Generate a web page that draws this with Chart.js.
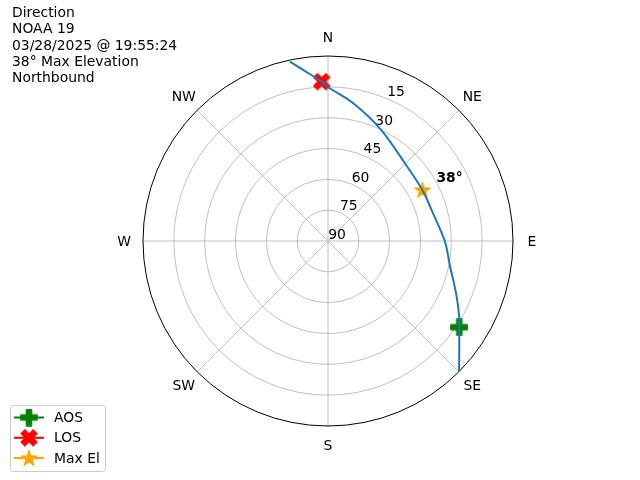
<!DOCTYPE html>
<html lang="en">
<head>
    <meta charset="UTF-8">
    <title>Direction</title>
    <script src="https://cdn.jsdelivr.net/npm/chart.js"></script>
    <style>
        body { margin: 0; background: #fff; }
        #grafico { display: block; }
    </style>
</head>
<body>
<canvas id="grafico" width="640" height="480"></canvas>
<script>
    // pass track (azimuth deg, elevation deg), AOS -> LOS
    const azimute = [134.9, 129.7, 123.3, 120.0, 113.4, 107.3, 101.9, 90.3, 73.4, 61.6, 44.7, 25.4, 10.4, 0.1, 357.7, 352.3, 348.0];
    const elevacao = [0.0, 7.0, 13.6, 16.3, 21.8, 26.2, 29.3, 33.1, 37.4, 37.8, 36.8, 30.0, 21.9, 15.2, 12.4, 6.6, 0.8];

    const aos = { az: 123.3, el: 13.6 };
    const los = { az: 357.7, el: 12.4 };
    const maxEl = { az: 61.6, el: 37.8 };

    const aneis = [15, 30, 45, 60, 75];           // radius = 90 - elevation
    const rotulosAneis = ['90', '75', '60', '45', '30', '15'];
    const direcoes = ['N', 'NE', 'E', 'SE', 'S', 'SW', 'W', 'NW'];
    const titulo = ['Direction', 'NOAA 19', '03/28/2025 @ 19:55:24', '38° Max Elevation', 'Northbound'];

    function polar(az, el) {
        const r = 90 - el;
        const a = az * Math.PI / 180;
        return { x: r * Math.sin(a), y: r * Math.cos(a) };
    }

    const fonte = '13.9px "DejaVu Sans"';

    // filled marker shapes like matplotlib's P, X and *
    function marcador(tipo, cor) {
        const s = 18;
        const c = document.createElement('canvas');
        c.width = s; c.height = s;
        const g = c.getContext('2d');
        g.translate(s / 2, s / 2);
        g.fillStyle = cor;
        g.strokeStyle = cor;
        g.lineWidth = 1;
        g.lineJoin = 'round';
        const h = 8.3, t = 2.8;
        g.beginPath();
        if (tipo === 'plus' || tipo === 'x') {
            if (tipo === 'x') g.rotate(Math.PI / 4);
            const k = tipo === 'x' ? h * 1.05 : h;
            g.moveTo(-t, -k); g.lineTo(t, -k); g.lineTo(t, -t); g.lineTo(k, -t);
            g.lineTo(k, t); g.lineTo(t, t); g.lineTo(t, k); g.lineTo(-t, k);
            g.lineTo(-t, t); g.lineTo(-k, t); g.lineTo(-k, -t); g.lineTo(-t, -t);
        } else {
            for (let i = 0; i < 10; i++) {
                const r = i % 2 === 0 ? 8.5 : 3.4;
                const a = -Math.PI / 2 + i * Math.PI / 5;
                const px = r * Math.cos(a), py = r * Math.sin(a) + 0.6;
                if (i === 0) g.moveTo(px, py); else g.lineTo(px, py);
            }
        }
        g.closePath();
        g.fill();
        g.stroke();
        return c;
    }

    const mAos = marcador('plus', 'green');
    const mLos = marcador('x', 'red');
    const mMax = marcador('star', 'orange');

    const legenda = [
        { texto: 'AOS', cor: 'green', img: mAos },
        { texto: 'LOS', cor: 'red', img: mLos },
        { texto: 'Max El', cor: 'orange', img: mMax }
    ];

    const polarPlugin = {
        id: 'polarPlugin',
        beforeDatasetsDraw(chart) {
            const ctx = chart.ctx;
            const sx = chart.scales.x, sy = chart.scales.y;
            const cx = sx.getPixelForValue(0), cy = sy.getPixelForValue(0);
            const k = sx.getPixelForValue(1) - cx;
            ctx.save();
            ctx.strokeStyle = '#b0b0b0';
            ctx.lineWidth = 0.8;
            aneis.forEach(r => {
                ctx.beginPath();
                ctx.arc(cx, cy, r * k, 0, Math.PI * 2);
                ctx.stroke();
            });
            for (let i = 0; i < 8; i++) {
                const p = polar(i * 45, 0);
                ctx.beginPath();
                ctx.moveTo(cx, cy);
                ctx.lineTo(sx.getPixelForValue(p.x), sy.getPixelForValue(p.y));
                ctx.stroke();
            }
            ctx.strokeStyle = '#000';
            ctx.lineWidth = 1;
            ctx.beginPath();
            ctx.arc(cx, cy, 90 * k, 0, Math.PI * 2);
            ctx.stroke();

            ctx.fillStyle = '#000';
            ctx.font = fonte;
            ctx.textAlign = 'center';
            ctx.textBaseline = 'middle';
            direcoes.forEach((d, i) => {
                const a = i * 45 * Math.PI / 180;
                ctx.fillText(d, cx + 204 * Math.sin(a), cy + 1 - 204 * Math.cos(a));
            });
            rotulosAneis.forEach((t, i) => {
                const r = i * 15 * k;
                const a = 22.5 * Math.PI / 180;
                ctx.fillText(t, cx + r * Math.sin(a) + 9, cy - r * Math.cos(a) - 6);
            });
            ctx.restore();
        },
        afterDraw(chart) {
            const ctx = chart.ctx;
            const sx = chart.scales.x, sy = chart.scales.y;
            ctx.save();
            ctx.fillStyle = '#000';
            ctx.textAlign = 'left';
            ctx.textBaseline = 'alphabetic';
            ctx.font = fonte;
            titulo.forEach((t, i) => ctx.fillText(t, 12, 17 + i * 16.3));

            const pm = polar(maxEl.az, maxEl.el);
            ctx.font = 'bold ' + fonte;
            ctx.textBaseline = 'middle';
            ctx.fillText(Math.round(maxEl.el) + '°', sx.getPixelForValue(pm.x) + 14, sy.getPixelForValue(pm.y) - 11.5);

            // legend box
            ctx.font = fonte;
            ctx.fillStyle = 'rgba(255,255,255,0.8)';
            ctx.strokeStyle = '#cccccc';
            ctx.lineWidth = 1;
            ctx.beginPath();
            ctx.roundRect(10.5, 405.5, 95, 66, 3);
            ctx.fill();
            ctx.stroke();
            legenda.forEach((item, i) => {
                const y = 417.5 + i * 20.3;
                ctx.strokeStyle = item.cor;
                ctx.lineWidth = 2;
                ctx.beginPath();
                ctx.moveTo(14, y);
                ctx.lineTo(44, y);
                ctx.stroke();
                ctx.drawImage(item.img, 29 - 9, y - 9);
                ctx.fillStyle = '#000';
                ctx.fillText(item.texto, 54, y + 1);
            });
            ctx.restore();
        }
    };

    const trilha = azimute.map((a, i) => polar(a, elevacao[i]));

    new Chart(document.getElementById('grafico'), {
        type: 'scatter',
        data: {
            datasets: [{
                label: 'track',
                data: trilha,
                showLine: true,
                borderColor: '#1f77b4',
                borderWidth: 2,
                pointRadius: 0,
                tension: 0.3
            },
            {
                label: 'AOS',
                data: [polar(aos.az, aos.el)],
                pointStyle: mAos,
                pointRadius: 9
            },
            {
                label: 'LOS',
                data: [polar(los.az, los.el)],
                pointStyle: mLos,
                pointRadius: 9
            },
            {
                label: 'Max El',
                data: [polar(maxEl.az, maxEl.el)],
                pointStyle: mMax,
                pointRadius: 9
            }]
        },
        options: {
            responsive: false,
            animation: false,
            devicePixelRatio: 1,
            layout: { padding: { left: 143, right: 127, top: 56, bottom: 54 } },
            plugins: {
                legend: { display: false },
                tooltip: { enabled: false }
            },
            scales: {
                x: { type: 'linear', min: -90, max: 90, display: false },
                y: { type: 'linear', min: -90, max: 90, display: false }
            }
        },
        plugins: [polarPlugin]
    });
</script>
</body>
</html>
